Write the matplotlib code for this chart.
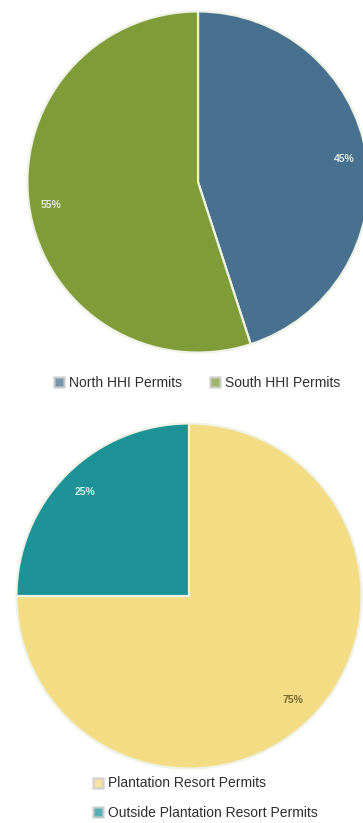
import matplotlib
matplotlib.use('Agg')
import matplotlib.pyplot as plt
from matplotlib.lines import Line2D

plt.rcParams['font.family'] = ['Liberation Sans Narrow', 'Liberation Sans', 'DejaVu Sans']

# Top chart: Hilton Head Island permits by area
hhi_labels = ['North HHI Permits', 'South HHI Permits']
hhi_values = [45, 55]
hhi_colors = ['#48708f', '#7f9c38']
hhi_text_colors = ['#dfe8e2', '#e4ecd2']

# Bottom chart: plantation vs outside
pl_labels = ['Plantation Resort Permits', 'Outside Plantation Resort Permits']
pl_values = [75, 25]
pl_colors = ['#f4dc84', '#1e9397']
pl_text_colors = ['#7a6a2e', '#d6ece8']

W, H = 363, 823
fig = plt.figure(figsize=(W / 100, H / 100), dpi=100)


def pie_axes(cx, cy, r):
    # place a square axes so that the unit pie sits at (cx, cy) with radius r px
    return fig.add_axes([(cx - r) / W, (H - cy - r) / H, 2 * r / W, 2 * r / H])


def draw_pie(ax, values, colors, text_colors, pctdist):
    wedges, texts, autotexts = ax.pie(
        values, colors=colors, startangle=90, counterclock=False,
        autopct=lambda p: f'{p:.0f}%', pctdistance=pctdist, radius=1.0,
        wedgeprops=dict(edgecolor='#eef3e6', linewidth=1.6))
    for t, c in zip(autotexts, text_colors):
        t.set_color(c)
        t.set_fontsize(7.5)
        t.set_fontweight('bold')
    ax.set_xlim(-1.02, 1.02)
    ax.set_ylim(-1.02, 1.02)
    ax.set_aspect('equal')
    ax.axis('off')
    return wedges


def legend_handles(colors):
    return [Line2D([], [], linestyle='none', marker='s', markersize=6.5,
                   markerfacecolor=c, markeredgecolor='#cccccc', markeredgewidth=1.8,
                   alpha=0.75)
            for c in colors]


ax1 = pie_axes(198, 182, 174)
draw_pie(ax1, hhi_values, hhi_colors, hhi_text_colors, 0.87)

ax2 = pie_axes(189, 596, 176)
draw_pie(ax2, pl_values, pl_colors, pl_text_colors, 0.85)

fig.legend(legend_handles(hhi_colors), hhi_labels, ncol=2, frameon=False,
           loc='center', bbox_to_anchor=(197 / W, 1 - 383 / H),
           fontsize=10, handlelength=0.8, handletextpad=0.3, columnspacing=2.0,
           labelcolor='#2e2e2e')

fig.legend(legend_handles(pl_colors), pl_labels, ncol=1, frameon=False,
           loc='center left', bbox_to_anchor=(80 / W, 1 - 798 / H),
           fontsize=10, handlelength=0.8, handletextpad=0.3, labelspacing=1.1,
           labelcolor='#2e2e2e')

fig.savefig('out.png', dpi=100, facecolor='white')
